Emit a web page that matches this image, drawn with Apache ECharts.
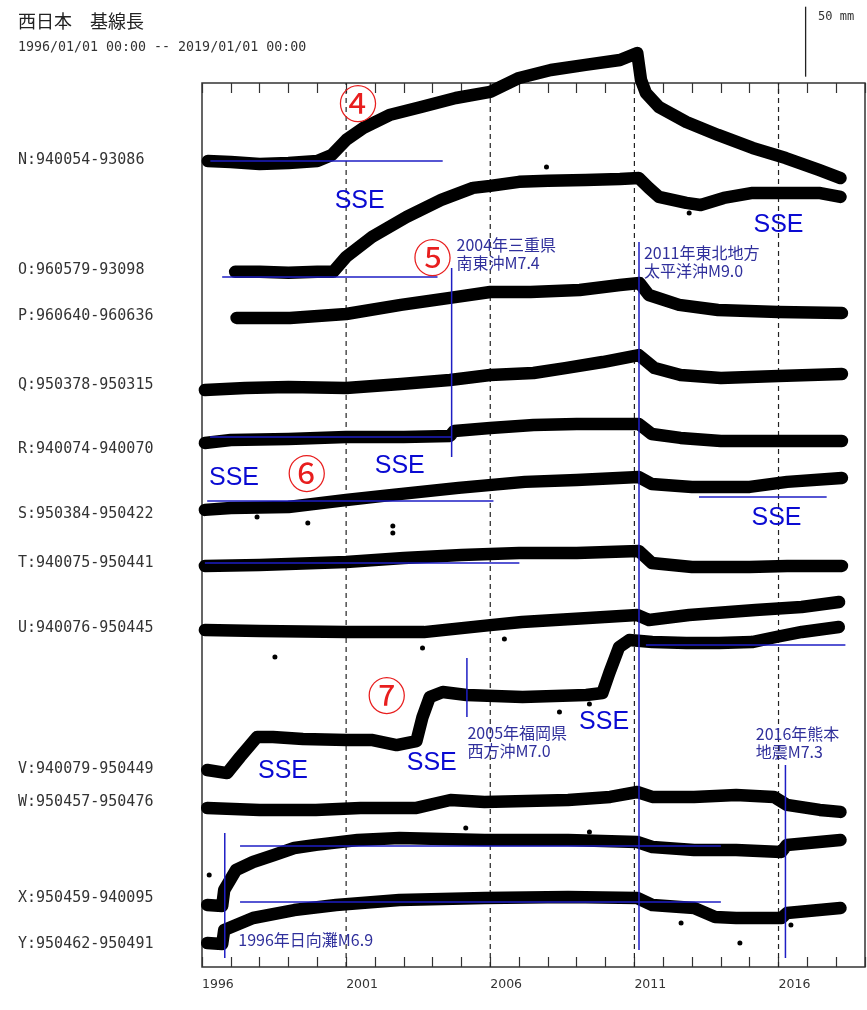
<!DOCTYPE html>
<html><head><meta charset="utf-8">
<script src="https://cdn.jsdelivr.net/npm/echarts/dist/echarts.min.js"></script>
<style>html,body{margin:0;padding:0;background:#fff}#c{width:867px;height:1010px}</style>
</head><body><div id="c"></div>
<script>
// ---- data (years, mm) ----
const seriesNames = ['N:940054-93086','O:960579-93098','P:960640-960636','Q:950378-950315','R:940074-940070','S:950384-950422','T:940075-950441','U:940076-950445','V:940079-950449','W:950457-950476','X:950459-940095','Y:950462-950491'];
const baselines = [576.4, 497.9, 465, 415.7, 370, 323.6, 288.6, 242.1, 141.4, 117.9, 49.3, 16.4];

const tN = [1996.2,1997,1998,1999,2000,2000.5,2001,2001.6,2002.5,2003.6,2004.8,2006,2007,2008.1,2009.3,2010.5,2011.1,2011.23,2011.4,2011.85,2012.8,2013.9,2015.1,2016.25,2017.4,2018.15];
const dN = [-0.7,-1.4,-2.9,-2.1,-0.7,3.6,14.3,22.9,32.1,37.9,44.3,48.6,58.6,64.3,67.9,71.4,76.4,57.1,47.9,37.9,27.1,17.9,8.6,1.4,-7.1,-12.9];

const tO = [1997.15,1998,1999,2000,2000.55,2001,2001.9,2003.1,2004.3,2005.4,2006,2007,2008,2009.3,2010.5,2011.15,2011.5,2011.85,2012.8,2013.3,2014.1,2015.1,2016.25,2017.4,2018.15];
const dO = [-1.4,-1.4,-2.1,-1.4,-1.4,9.3,23.6,37.9,50,58.6,60,62.9,63.6,64.3,65,65.7,58.6,52.1,47.9,46.4,51.4,55,55,55,52.1];

const tP = [1997.2,1999.05,2001,2002.9,2004.6,2006,2007.4,2009.1,2010.5,2011.18,2011.5,2012.55,2013.9,2016,2018.2];
const dP = [-1.4,-1.4,1.4,7.9,12.9,17.1,17.1,18.6,22.1,23.6,15,7.9,4.3,2.9,2.1];

const tQ = [1996.1,1997.5,1999,2001,2002.9,2004.6,2006,2007.5,2008.6,2009.9,2011.15,2011.7,2012.6,2014,2016,2018.2];
const dQ = [-3.6,-2.1,-1.4,-2.1,0.7,3.6,7.1,8.6,12.1,16.4,21.4,12.1,7.1,5,6.4,7.9];

const tR = [1996.1,1997,1999,2001,2003,2004.6,2004.75,2006,2007.5,2009,2010.5,2011.15,2011.6,2012.6,2014,2016,2018.2];
const dR = [4.3,6.4,7.1,8.6,8.6,9.3,12.9,15,17.1,17.9,17.9,17.9,10.7,7.9,5.7,5.7,5.7];

const tS = [1996.1,1997,1999,2001,2002.6,2004.9,2007.2,2009,2011.15,2011.6,2013,2015,2016.3,2018.2];
const dS = [2.9,4.3,5,10,13.6,18.6,22.9,24.3,26.4,21.4,19.3,19.3,22.9,25.7];

const tT = [1996.1,1998,2001,2003,2005,2007,2009,2011.15,2011.6,2013,2015,2016.3,2018.2];
const dT = [-2.1,-1.4,0.7,3.6,5.7,7.1,7.1,8.6,0,-2.9,-2.9,-2.1,-2.1];

const tU = [1996.1,1998,2001,2003.7,2006,2007.1,2009.4,2011.1,2011.5,2012.9,2015.2,2016.8,2018.1];
const dU = [-1.4,-2.1,-2.9,-2.9,2.1,4.3,7.1,9.3,5.7,9.3,12.9,15,18.6];

const tV = [1996.18,1996.87,1997.32,1997.91,1998.46,1999.5,2001.02,2001.92,2002.75,2003.44,2003.65,2003.9,2004.35,2005.18,2007.12,2009.33,2009.89,2010.13,2010.47,2010.82,2011.62,2012.8,2013.94,2015.08,2015.91,2016.81,2018.09];
const dV = [-0.7,-2.9,8.6,22.9,22.9,21.4,20.7,20.7,17.1,20,37.1,51.4,55,52.9,51.4,52.9,54.3,68.6,87.1,92.1,90.7,90,90,90.7,94.3,97.9,101.4];

const tW = [1996.18,1998,1999.95,2001.5,2003.44,2004.62,2005.8,2008.7,2010.16,2011.1,2011.62,2013.07,2014.53,2015.84,2016.29,2017.43,2018.15];
const dW = [-4.3,-5.7,-5.7,-4.3,-4.3,1.4,0,1.4,3.6,7.1,3.6,3.6,5,3.6,-2.1,-5.7,-7.1];

const tX = [1996.18,1996.7,1996.77,1997.18,1997.77,1998.5,1999.2,1999.95,2001.4,2002.85,2005.8,2008.7,2011.1,2011.62,2013.07,2014.53,2016.1,2016.29,2018.15];
const dX = [-5,-5.7,5.7,20,25.7,30.7,35.7,37.9,41.4,42.9,41.4,41.4,40,36.4,34.3,34.3,32.9,37.9,41.4];

const tY = [1996.18,1996.7,1996.77,1997.77,1999.2,2000.65,2002.85,2005.8,2008.7,2011.1,2011.62,2013.07,2013.8,2014.53,2016.1,2016.29,2018.15];
const dY = [0.7,0,10,18.6,24.3,27.9,31.4,32.9,33.6,32.9,27.9,25.7,19.3,18.6,18.6,22.1,25.7];

// isolated outlier readings [year, mm on the shared axis]
const outliers = [[2002.62,315.0],[2002.62,310.0],[1999.67,317.1],[1997.91,321.4],[1998.53,221.4],[2003.65,227.9],[2006.49,234.3],[2008.40,182.1],[2009.44,187.9],[2014.66,17.1],[2012.62,31.4],[2016.43,30],[1996.25,65.7],[2005.15,99.3],[2009.44,96.4],[2007.95,571.4],[2012.9,538.6]];

const xTickLabels = [1996, 2001, 2006, 2011, 2016];

// reference (blue) horizontal lines: [startYear, endYear, level mm]
const refLines = [[1996.29,2004.35,575.7],[1996.7,2004.17,492.9],[1996.28,2004.66,378.6],[1996.18,2006.11,332.9],[2013.24,2017.67,335.7],[1996.1,2007.01,288.6],[2011.4,2018.32,230],[1997.32,2014.0,86.4],[1997.32,2014.0,46.4]];
// earthquake vertical lines: [year, bottom mm, top mm]
const quakeLines = [[1996.79,6.4,95.7],[2004.66,364.3,499.3],[2005.19,178.6,220.7],[2011.16,12.1,517.9],[2016.24,6.4,144.3]];
const quakeTexts = ['1996年日向灘M6.9','2004年三重県\n南東沖M7.4','2005年福岡県\n西方沖M7.0','2011年東北地方\n太平洋沖M9.0','2016年熊本\n地震M7.3'];
const quakeTextPos = [[1997.26,19.3],[2004.83,509.3],[2005.21,160.7],[2011.33,503.6],[2015.21,160]];
const ssePos = [[2001.47,547.1],[2016.0,530],[1997.11,349.3],[2002.86,357.9],[2015.93,320.7],[1998.81,140],[2003.97,145.7],[2009.95,175]];
const circledTexts = ['④','⑤','⑥','⑦'];
const circledPos = [[2001.41,617.1],[2004.0,507.1],[1999.63,352.9],[2002.41,194.3]];
const scaleBar = [[2016.94,635.9],[2016.94,685.9]]; // 50 mm

const traces = [[tN,dN],[tO,dO],[tP,dP],[tQ,dQ],[tR,dR],[tS,dS],[tT,dT],[tU,dU],[tV,dV],[tW,dW],[tX,dX],[tY,dY]];

const chart = echarts.init(document.getElementById('c'), null, {renderer:'canvas'});
const YMAX = 631.4;
const BLUE = '#1e1ec4';
const series = [];
// dashed guide lines at the labelled years (except the left edge)
xTickLabels.slice(1).forEach(yr=>series.push({type:'line', data:[[yr,0],[yr,YMAX]], symbol:'none', silent:true, z:1,
  lineStyle:{width:1.2,color:'#222',type:[5,4]}}));
traces.forEach(([t,d],i)=>{
  series.push({type:'line', name:seriesNames[i], data:t.map((x,j)=>[x, baselines[i]+d[j]]), symbol:'none', clip:false, silent:true, z:3,
    lineStyle:{width:12.5,color:'#000',cap:'round',join:'round'}});
});
series.push({type:'scatter', data:outliers, symbolSize:5, silent:true, z:3, itemStyle:{color:'#000', opacity:1}});
refLines.forEach(r=>series.push({type:'line', data:[[r[0],r[2]],[r[1],r[2]]], symbol:'none', silent:true, z:5, lineStyle:{width:1.5,color:BLUE}}));
quakeLines.forEach(q=>series.push({type:'line', data:[[q[0],q[1]],[q[0],q[2]]], symbol:'none', silent:true, z:5, lineStyle:{width:1.5,color:BLUE}}));
series.push({type:'line', data:scaleBar, symbol:'none', clip:false, silent:true, lineStyle:{width:1.3,color:'#222'}});
series.push({type:'scatter', symbolSize:0, silent:true, z:6, itemStyle:{opacity:1},
  data:quakeTextPos.map((p,i)=>({value:p, name:quakeTexts[i]})),
  label:{show:true, position:'right', distance:0, opacity:1, formatter:p=>p.name, color:'#30309c', fontSize:16, lineHeight:18, fontFamily:'Noto Sans CJK JP'}});
series.push({type:'scatter', symbolSize:0, silent:true, z:6, itemStyle:{opacity:1},
  data:ssePos.map(p=>({value:p, name:'SSE'})),
  label:{show:true, position:'inside', opacity:1, formatter:'SSE', color:'#0a0ad2', fontSize:25, fontFamily:'Liberation Sans'}});
series.push({type:'scatter', symbolSize:0, silent:true, z:6, itemStyle:{opacity:1},
  data:circledPos.map((p,i)=>({value:p, name:circledTexts[i]})),
  label:{show:true, position:'inside', opacity:1, formatter:p=>p.name, color:'#e81e1e', fontSize:39, fontFamily:'Noto Sans CJK JP'}});

const axisBase = {type:'value', min:1996, max:2019, gridIndex:0};
chart.setOption({
  animation:false,
  backgroundColor:'#fff',
  grid:{left:202, right:2, top:83, bottom:43, show:true, borderColor:'#333', borderWidth:1.5, backgroundColor:'transparent', outerBoundsMode:'none'},
  xAxis:[
    Object.assign({}, axisBase, {interval:1, position:'bottom', axisLine:{show:false}, axisTick:{show:true, inside:true, length:10, lineStyle:{color:'#333',width:1.2}}, axisLabel:{show:false}, splitLine:{show:false}}),
    Object.assign({}, axisBase, {interval:5, position:'bottom', axisLine:{show:false}, axisTick:{show:false},
      axisLabel:{show:true, align:'left', margin:11, color:'#333', fontSize:12.5, fontFamily:'DejaVu Sans', showMaxLabel:false,
        formatter:v=> xTickLabels.includes(v) ? String(v) : ''},
      splitLine:{show:false}}),
    Object.assign({}, axisBase, {interval:1, position:'top', axisLine:{show:false}, axisTick:{show:true, inside:true, length:10, lineStyle:{color:'#333',width:1.2}}, axisLabel:{show:false}, splitLine:{show:false}})
  ],
  yAxis:{type:'value', min:0, max:YMAX, show:false, splitLine:{show:false}},
  series:series
});

// left labels, title
const gfx = [
  {type:'text', left:18, top:12, style:{text:'西日本　基線長', fontSize:18, fontFamily:'Noto Sans CJK JP', fill:'#222'}},
  {type:'text', left:18, top:41, style:{text:'1996/01/01 00:00 -- 2019/01/01 00:00', fontSize:13.3, fontFamily:'DejaVu Sans Mono', fill:'#333'}},
  {type:'text', left:818, top:11, style:{text:'50 mm', fontSize:12, fontFamily:'DejaVu Sans Mono', fill:'#333'}}
];
baselines.forEach((b,i)=>{
  const y = chart.convertToPixel({yAxisIndex:0}, b);
  gfx.push({type:'text', x:18, y:y, style:{text:seriesNames[i], fontSize:15, fontFamily:'DejaVu Sans Mono', fill:'#333', verticalAlign:'middle'}});
});
chart.setOption({graphic:gfx});
</script></body></html>
